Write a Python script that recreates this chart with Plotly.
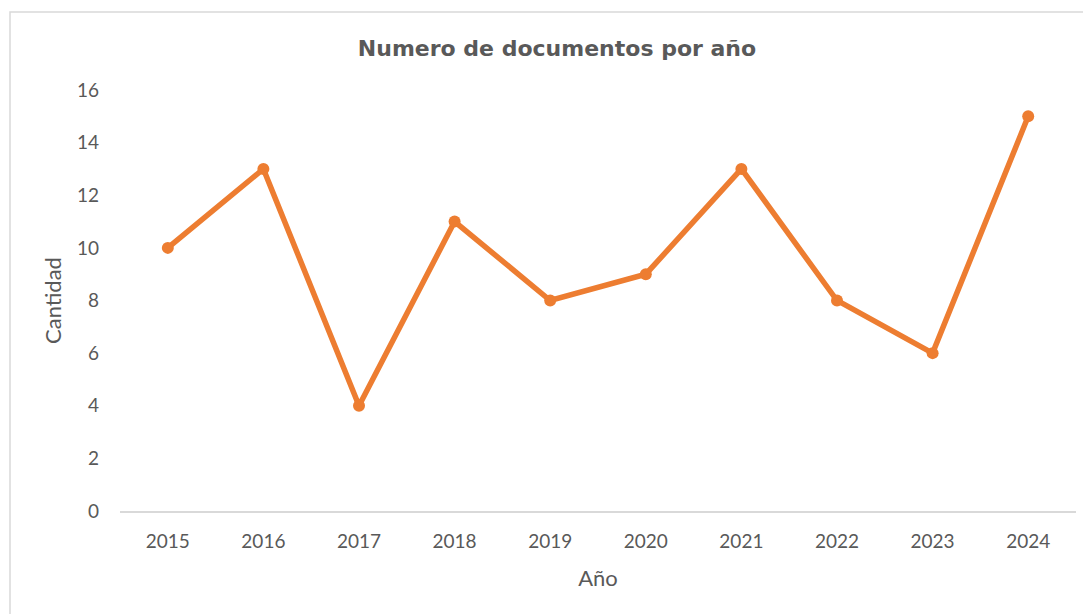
import plotly.graph_objects as go

years = ["2015", "2016", "2017", "2018", "2019", "2020", "2021", "2022", "2023", "2024"]
counts = [10, 13, 4, 11, 8, 9, 13, 8, 6, 15]
y_ticks = [0, 2, 4, 6, 8, 10, 12, 14, 16]

W, H = 1091, 614
OFF = 8  # page body margin
L, R, T, B = 120 - OFF, 15 + OFF, 90 - OFF, 103 + OFF

fig = go.Figure()
fig.add_trace(go.Scatter(
    x=years, y=counts, mode="lines+markers",
    line=dict(color="#ED7D31", width=5.5),
    marker=dict(color="#ED7D31", size=12),
    hoverinfo="x+y",
))

pw = W - L - R
ph = H - T - B
fig.update_layout(
    width=W, height=H,
    margin=dict(l=L, r=R, t=T, b=B),
    paper_bgcolor="white", plot_bgcolor="white",
    showlegend=False,
    font=dict(family="Lato, 'Open Sans', sans-serif", color="#595959", size=19),
    title=dict(text="<b>Numero de documentos por año</b>", x=(557 - OFF) / W, xanchor="center",
               y=1 - (48 - OFF) / H, yanchor="middle",
               font=dict(family="'DejaVu Sans', sans-serif", size=22, color="#595959")),
    xaxis=dict(
        type="category", range=[-0.5, len(years) - 0.5],
        showgrid=False, zeroline=False,
        showline=True, linecolor="#d9d9d9", linewidth=1.5,
        ticks="", ticklabelstandoff=12, tickfont=dict(size=19, color="#595959"),
        title=dict(text="Año", font=dict(size=22, color="#595959"), standoff=20),
    ),
    yaxis=dict(
        range=[0, 16], tickvals=y_ticks, showgrid=False, zeroline=False,
        showline=False, ticks="", ticklabelstandoff=20,
        tickfont=dict(size=19, color="#595959"),
        title=dict(text="Cantidad", font=dict(size=22, color="#595959"), standoff=9),
    ),
    shapes=[dict(
        type="rect", xref="paper", yref="paper",
        x0=(10 - OFF - L) / pw, x1=(W + 20 - L) / pw,
        y0=-(H + 20 - T - ph) / ph, y1=(ph + T - (12 - OFF)) / ph,
        line=dict(color="#d9d9d9", width=1.5), fillcolor="rgba(0,0,0,0)", layer="below",
    )],
)

fig.write_html("out.html")
